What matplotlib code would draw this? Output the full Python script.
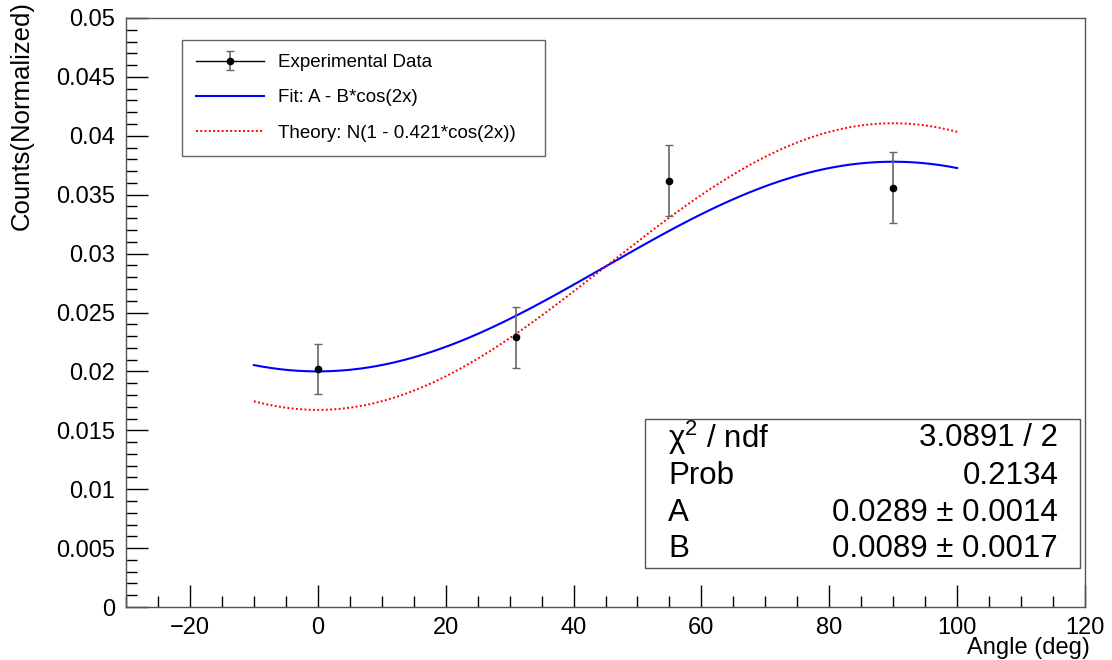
import numpy as np
import matplotlib
matplotlib.use("Agg")
import matplotlib.pyplot as plt
from matplotlib.lines import Line2D
from matplotlib.patches import Rectangle
from matplotlib.legend_handler import HandlerTuple
from matplotlib.ticker import MultipleLocator

plt.rcParams['font.family'] = ['Liberation Sans', 'DejaVu Sans']
plt.rcParams['mathtext.fontset'] = 'custom'
plt.rcParams['mathtext.rm'] = 'Liberation Sans'
plt.rcParams['mathtext.it'] = 'Liberation Sans:italic'
plt.rcParams['mathtext.bf'] = 'Liberation Sans:bold'

# ---- data ----
angles = [0, 31, 55, 90]
counts = [0.0202, 0.0229, 0.0362, 0.0356]
errors = [0.0021, 0.0026, 0.0030, 0.0030]

fit_A = 0.0289
fit_B = 0.0089
theory_N = 0.0289
theory_a = 0.421
curve_range = [-10, 100]

stats_labels = ["\u03c7$^{2}$ / ndf", "Prob", "A", "B"]
stats_values = ["3.0891 / 2", "0.2134", "0.0289 \u00b1 0.0014", "0.0089 \u00b1 0.0017"]

legend_labels = ["Experimental Data", "Fit: A - B*cos(2x)", "Theory: N(1 - 0.421*cos(2x))"]

W, H = 1112, 660
fig = plt.figure(figsize=(W / 100, H / 100), dpi=100)
ax = fig.add_axes([126 / W, 1 - 607 / H, (1085 - 126) / W, (607 - 18) / H])

xc = np.linspace(curve_range[0], curve_range[1], 400)
fit_y = fit_A - fit_B * np.cos(np.radians(2 * xc))
th_y = theory_N * (1 - theory_a * np.cos(np.radians(2 * xc)))

l_fit, = ax.plot(xc, fit_y, color='#0000ff', lw=1.5, zorder=3)
l_th, = ax.plot(xc, th_y, color='#ff0000', lw=1.4, ls=(0, (1, 1.2)), zorder=3)
eb = ax.errorbar(angles, counts, yerr=errors, fmt='o', color='black', ms=4.5,
                 ecolor='#666666', elinewidth=1.2, capsize=3, capthick=1.0, zorder=4)

ax.set_xlim(-30, 120)
ax.set_ylim(0, 0.05)
ax.xaxis.set_major_locator(MultipleLocator(20))
ax.xaxis.set_minor_locator(MultipleLocator(5))
ax.yaxis.set_major_locator(MultipleLocator(0.005))
ax.yaxis.set_minor_locator(MultipleLocator(0.001))

def yfmt(v, pos):
    if abs(v) < 1e-12:
        return "0"
    return ("%.3f" % v).rstrip('0')
def xfmt(v, pos):
    return "%d" % round(v) if v >= 0 else "\u2212%d" % round(-v)
ax.yaxis.set_major_formatter(plt.FuncFormatter(yfmt))
ax.xaxis.set_major_formatter(plt.FuncFormatter(xfmt))

ax.tick_params(which='both', direction='in', top=False, right=False, colors='black',
               labelsize=17)
ax.tick_params(which='major', length=16, width=1.0)
ax.tick_params(which='minor', length=8, width=1.0)
ax.tick_params(axis='y', pad=8)
ax.tick_params(axis='x', pad=7)
for sp in ax.spines.values():
    sp.set_color('#555555')
    sp.set_linewidth(1.0)

fig.text(22 / W, 1 - 1 / H, "Counts(Normalized)", rotation=90, ha='center', va='top', fontsize=18.5)
fig.text(1090 / W, 1 - 648 / H, "Angle (deg)", ha='right', va='center', fontsize=17)

# legend
h_exp_line = Line2D([0], [0], color='black', lw=1.0)
leg = fig.legend([(h_exp_line, eb), l_fit, l_th], legend_labels,
                 handler_map={tuple: HandlerTuple(ndivide=1)},
                 loc='upper left', bbox_to_anchor=(182 / W, 1 - 40 / H, (545 - 182) / W, 0.0),
                 bbox_transform=fig.transFigure, mode='expand', borderaxespad=0,
                 fontsize=13.5, handlelength=3.6, handletextpad=0.75, labelspacing=0.97,
                 borderpad=0.75, fancybox=False, framealpha=1, edgecolor='#666666')
leg.get_frame().set_linewidth(1.0)

# stats box
x0, y0, x1, y1 = 645, 419, 1080, 568
fig.patches.append(Rectangle((x0 / W, 1 - y1 / H), (x1 - x0) / W, (y1 - y0) / H,
                             transform=fig.transFigure, facecolor='white',
                             edgecolor='#555555', lw=1.0, zorder=5))
rows = [438, 476, 513, 549]
for lab, val, yy in zip(stats_labels, stats_values, rows):
    fig.text(668 / W, 1 - yy / H, lab, ha='left', va='center', fontsize=22.5, zorder=6)
    fig.text(1058 / W, 1 - yy / H, val, ha='right', va='center', fontsize=22.5, zorder=6)

fig.savefig("out.png", dpi=100)
